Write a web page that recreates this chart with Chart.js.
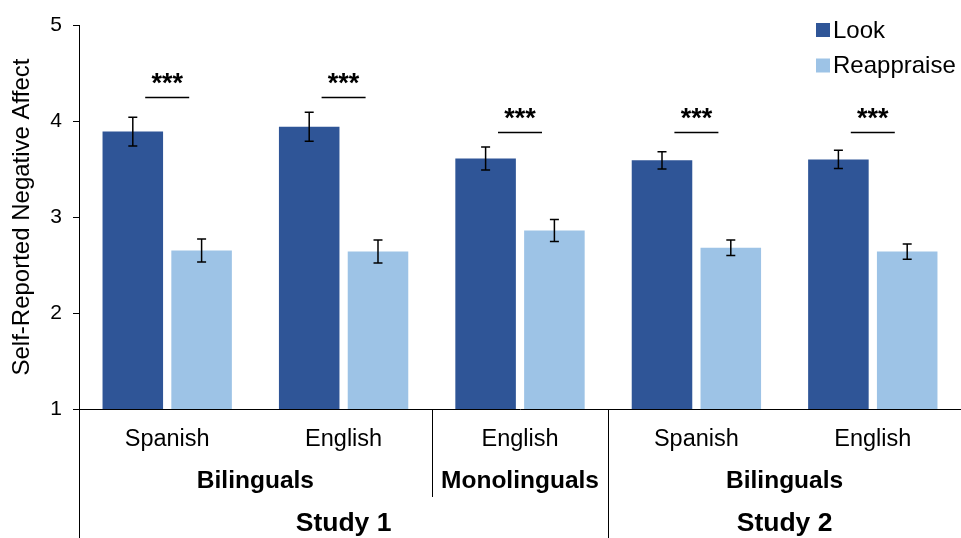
<!DOCTYPE html>
<html>
<head>
<meta charset="utf-8">
<script src="https://cdn.jsdelivr.net/npm/chart.js@4/dist/chart.umd.min.js"></script>
<style>
  html, body { margin: 0; padding: 0; background: #fff; overflow: hidden; }
  #wrap { width: 961px; height: 538px; }
</style>
</head>
<body>
<div id="wrap"><canvas id="chart"></canvas></div>
<script>
// data
var categories = ['Spanish', 'English', 'English', 'Spanish', 'English'];
var lookValues = [3.89, 3.94, 3.61, 3.59, 3.60];
var lookErrors = [0.15, 0.15, 0.12, 0.09, 0.095];
var reappraiseValues = [2.65, 2.64, 2.86, 2.68, 2.64];
var reappraiseErrors = [0.12, 0.12, 0.115, 0.08, 0.08];
var bracketLevels = [4.25, 4.25, 3.89, 3.89, 3.89];
var bracketLabels = ['***', '***', '***', '***', '***'];
var groupLabels = ['Bilinguals', 'Monolinguals', 'Bilinguals'];
var groupSpans = [[0, 1], [2, 2], [3, 4]];
var studyLabels = ['Study 1', 'Study 2'];
var studySpans = [[0, 2], [3, 4]];
var yTicks = [1, 2, 3, 4, 5];

var FONT = '"Liberation Sans", Arial, Helvetica, sans-serif';
var DARK = '#2F5597';
var LIGHT = '#9DC3E6';

var errors = [lookErrors, reappraiseErrors];

var extrasPlugin = {
    id: 'extras',
    afterDatasetsDraw: function(chart) {
        var ctx = chart.ctx;
        var x = chart.scales.x;
        var y = chart.scales.y;
        var area = chart.chartArea;
        ctx.save();

        // error bars
        ctx.strokeStyle = '#000';
        ctx.lineWidth = 1.5;
        for (var d = 0; d < chart.data.datasets.length; d++) {
            var meta = chart.getDatasetMeta(d);
            var vals = chart.data.datasets[d].data;
            for (var i = 0; i < vals.length; i++) {
                var bx = meta.data[i].x;
                var top = y.getPixelForValue(vals[i] + errors[d][i]);
                var bot = y.getPixelForValue(vals[i] - errors[d][i]);
                ctx.beginPath();
                ctx.moveTo(bx, top); ctx.lineTo(bx, bot);
                ctx.moveTo(bx - 4.5, top); ctx.lineTo(bx + 4.5, top);
                ctx.moveTo(bx - 4.5, bot); ctx.lineTo(bx + 4.5, bot);
                ctx.stroke();
            }
        }

        // significance brackets
        ctx.fillStyle = '#000';
        ctx.textAlign = 'center';
        ctx.textBaseline = 'alphabetic';
        ctx.font = 'bold 27px ' + FONT;
        for (var j = 0; j < bracketLevels.length; j++) {
            var cx = x.getPixelForValue(j);
            var by = Math.round(y.getPixelForValue(bracketLevels[j])) + 0.5;
            ctx.beginPath();
            ctx.moveTo(cx - 22, by); ctx.lineTo(cx + 22, by);
            ctx.stroke();
            ctx.fillText(bracketLabels[j], cx, by - 6);
        }

        // multi-level category labels
        var H = chart.height;
        ctx.textBaseline = 'middle';
        ctx.font = '23.5px ' + FONT;
        categories.forEach(function(c, k) {
            ctx.fillText(c, x.getPixelForValue(k), area.bottom + 31);
        });
        ctx.font = 'bold 24.5px ' + FONT;
        groupLabels.forEach(function(g, k) {
            var s = groupSpans[k];
            var gx = (x.getPixelForValue(s[0]) + x.getPixelForValue(s[1])) / 2;
            ctx.fillText(g, gx, area.bottom + 72);
        });
        ctx.font = 'bold 26.5px ' + FONT;
        studyLabels.forEach(function(t, k) {
            var s = studySpans[k];
            var sx = (x.getPixelForValue(s[0]) + x.getPixelForValue(s[1])) / 2;
            ctx.fillText(t, sx, area.bottom + 115);
        });

        // separators below the axis
        ctx.lineWidth = 1;
        ctx.strokeStyle = '#000';
        function boundary(k) {
            return Math.round((x.getPixelForValue(k - 1) + x.getPixelForValue(k)) / 2) + 0.5;
        }
        ctx.beginPath();
        var ax = Math.round(area.left) + 0.5;
        ctx.moveTo(ax, area.bottom); ctx.lineTo(ax, H);
        groupSpans.forEach(function(s) {
            if (s[0] === 0) return;
            var isStudy = studySpans.some(function(t) { return t[0] === s[0]; });
            var sx = boundary(s[0]);
            ctx.moveTo(sx, area.bottom);
            ctx.lineTo(sx, isStudy ? H : area.bottom + 88);
        });
        ctx.stroke();

        // legend
        ctx.textAlign = 'left';
        ctx.font = '24px ' + FONT;
        chart.data.datasets.forEach(function(ds, k) {
            var ly = 30 + k * 35.5;
            ctx.fillStyle = ds.backgroundColor;
            ctx.fillRect(816, ly - 7, 14, 14);
            ctx.fillStyle = '#000';
            ctx.fillText(ds.label, 833, ly + 1);
        });

        ctx.restore();
    }
};

new Chart(document.getElementById('chart'), {
    type: 'bar',
    data: {
        labels: categories,
        datasets: [
            { label: 'Look', data: lookValues, backgroundColor: DARK, categoryPercentage: 0.78, barPercentage: 0.88 },
            { label: 'Reappraise', data: reappraiseValues, backgroundColor: LIGHT, categoryPercentage: 0.78, barPercentage: 0.88 }
        ]
    },
    options: {
        responsive: true,
        maintainAspectRatio: false,
        animation: false,
        layout: { padding: { top: 25, right: 0, left: 0, bottom: 0 } },
        plugins: {
            legend: { display: false },
            tooltip: { enabled: false }
        },
        scales: {
            x: {
                grid: { display: false },
                border: { display: true, color: '#000', width: 1 },
                ticks: { display: false },
                afterFit: function(scale) { scale.height = 129; }
            },
            y: {
                min: 1,
                max: 5,
                afterBuildTicks: function(scale) {
                    scale.ticks = yTicks.map(function(v) { return { value: v }; });
                },
                grid: { drawOnChartArea: false, drawTicks: true, tickLength: 6, color: '#000' },
                border: { display: true, color: '#000', width: 1 },
                ticks: { color: '#000', padding: 11, font: { family: FONT, size: 21 } },
                title: {
                    display: true,
                    text: 'Self-Reported Negative Affect',
                    color: '#000',
                    font: { family: FONT, size: 24 },
                    padding: { top: 8, bottom: 0 }
                },
                afterFit: function(scale) { scale.width = 79; }
            }
        }
    },
    plugins: [extrasPlugin]
});
</script>
</body>
</html>
